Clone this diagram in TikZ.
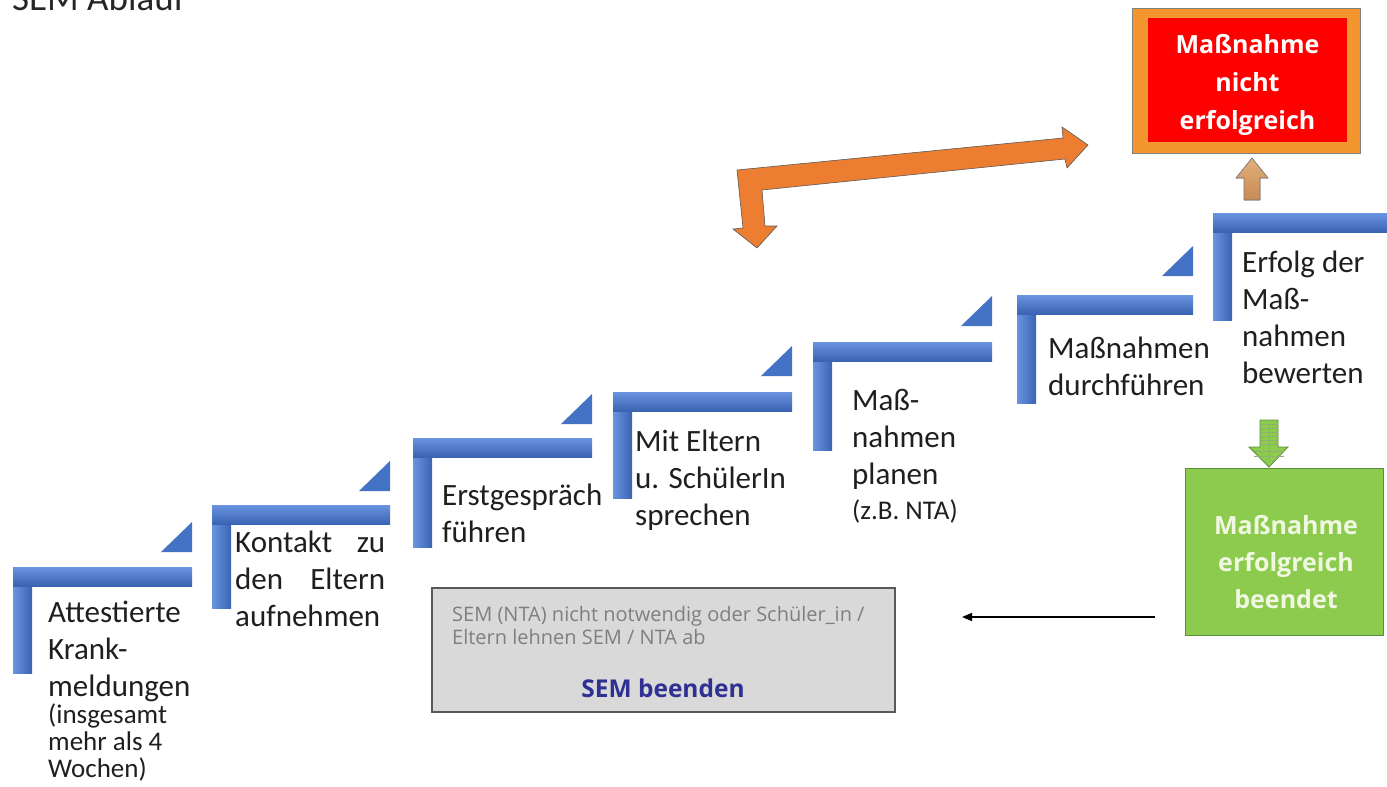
\documentclass[tikz,border=0pt]{standalone}
\usepackage{fontspec}
\setmainfont{Carlito}
\newfontfamily\boxfont{Open Sans}
\usetikzlibrary{arrows.meta}
\definecolor{stepblue}{HTML}{4472C4}
\definecolor{steplight}{HTML}{6A94DF}
\definecolor{stepdark}{HTML}{3A63B3}
\definecolor{arroworange}{HTML}{ED7D31}
\definecolor{frameorange}{HTML}{F4962E}
\definecolor{alarmred}{HTML}{FF0000}
\definecolor{tanlight}{HTML}{E2B07C}
\definecolor{tandark}{HTML}{C88A55}
\definecolor{okgreen}{HTML}{8DCB4F}
\definecolor{okgreendark}{HTML}{5E8E3D}
\definecolor{okwhite}{HTML}{F1F8E2}
\definecolor{stopgray}{HTML}{D9D9D9}
\definecolor{stopframe}{HTML}{595959}
\definecolor{stoptext}{HTML}{7F7F7F}
\definecolor{stopblue}{HTML}{2E3192}
\newcommand{\steplarge}{\fontsize{31}{37}\selectfont}
\newcommand{\stepsmall}{\fontsize{27}{27}\selectfont}
\tikzset{
  titletext/.style={anchor=base west, inner sep=0pt, font=\fontsize{37}{40}\selectfont, text=black!85},
  stepbar/.style={top color=steplight, bottom color=stepdark},
  steppost/.style={left color=steplight, right color=stepdark},
  steptip/.style={fill=stepblue},
  steptext/.style={anchor=base west, align=flush left, text width=200pt, inner sep=0pt, font=\steplarge, text=black!88},
  bentarrow/.style={fill=arroworange, draw=black!65, line width=0.6pt, line join=miter},
  uparrow/.style={top color=tanlight, bottom color=tandark, draw=black!55, line width=0.6pt},
  downarrow/.style={fill=okgreen, draw=okgreendark, line width=0.8pt},
  gridline/.style={draw=okgreendark!70, line width=0.4pt},
  failbox/.style={fill=alarmred, minimum width=199pt, minimum height=124pt},
  failtext/.style={align=center, text=white, font=\boxfont\bfseries\fontsize{25}{38}\selectfont},
  successbox/.style={fill=okgreen, draw=okgreendark, line width=0.8pt, minimum width=198pt, minimum height=167pt},
  successtext/.style={align=center, text=okwhite, font=\boxfont\bfseries\fontsize{25}{37}\selectfont},
  stopbox/.style={fill=stopgray, draw=stopframe, line width=1.4pt, minimum width=463pt, minimum height=124pt},
  stopnote/.style={anchor=base west, align=flush left, text width=440pt, inner sep=0pt, text=stoptext, font=\boxfont\fontsize{20}{23}\selectfont},
  stoplabel/.style={text=stopblue, font=\boxfont\bfseries\fontsize{24.5}{28}\selectfont},
  backarrow/.style={-{Triangle[length=10pt,width=8pt]}, line width=1.5pt, draw=black}
}

\begin{document}
\begin{tikzpicture}[x=1pt,y=-1pt]
  \useasboundingbox (0,0) rectangle (1387,787);
  \node[titletext] (title) at (12,10) {SEM Ablauf};

  % staircase
  \foreach \sx/\st/\sr/\sb in {13/567/192/673, 212/505/390/608, 413/438/592/547, 613/392/792/498, 813/342/992/450, 1017/295/1193/403, 1213/213/1400/320}{
    \fill[steppost] (\sx,\st) rectangle (\sx+19,\sb);
    \fill[stepbar] (\sx,\st) rectangle (\sr,\st+19);
  }
  \foreach \tr/\tb in {192/552, 390/491, 592/424, 792/376, 992/326, 1193/276}
    \fill[steptip] (\tr-31,\tb) -- (\tr,\tb) -- (\tr,\tb-30) -- cycle;

  \node[steptext] (s1) at (48,622) {Attestierte\\Krank-\\meldungen\\\stepsmall (insgesamt\\mehr als 4\\Wochen)\par};
  \node[steptext, text width=150pt] (s2) at (235,552) {Kontakt\hfill zu\\den\hfill Eltern\\aufnehmen};
  \node[steptext] (s3) at (442,505) {Erstgespräch\\führen};
  \node[steptext] (s4) at (635,451) {Mit Eltern\\u. SchülerIn\\sprechen};
  \node[steptext] (s5) at (852,410) {Maß-\\nahmen\\planen\\[8pt]\stepsmall (z.B. NTA)\par};
  \node[steptext] (s6) at (1048,358) {Maßnahmen\\durchführen};
  \node[steptext] (s7) at (1242,272) {Erfolg der\\Maß-\\nahmen\\bewerten};

  % loop back
  \filldraw[bentarrow] (737,170) -- (1063,138) -- (1062,127) -- (1088,145) -- (1067,168) -- (1065,159)
    -- (762,190) -- (765,226) -- (777,226) -- (757,248) -- (733,229) -- (743,228) -- cycle;

  % not successful
  \filldraw[fill=frameorange, draw=black!50, line width=0.8pt] (1132,8) rectangle (1360,153);
  \node[failbox] (fail) at (1247.5,80) {};
  \node[failtext] (faillbl) at (1247.5,85) {Maßnahme\\nicht\\erfolgreich};
  \filldraw[uparrow] (1244,200) -- (1244,178) -- (1236,178) -- (1252,158) -- (1268,178) -- (1260,178) -- (1260,200) -- cycle;

  % successful
  \filldraw[downarrow] (1260,420) -- (1278,420) -- (1278,447) -- (1288,447) -- (1269,467) -- (1249,447) -- (1260,447) -- cycle;
  \draw[gridline] (1269,420) -- (1269,462);
  \foreach \gy in {424,428,...,444} \draw[gridline] (1260,\gy) -- (1278,\gy);
  \foreach \gy in {451,456} \draw[gridline] (1254,\gy) -- (1284,\gy);
  \node[successbox] (success) at (1284,551.5) {};
  \node[successtext] (successlbl) at (1286,562) {Maßnahme\\erfolgreich\\beendet};

  % end of SEM
  \node[stopbox] (stop) at (663.5,650) {};
  \node[stopnote] (stopnt) at (452,621) {SEM (NTA) nicht notwendig oder Schüler\_in /\\Eltern lehnen SEM / NTA ab};
  \node[stoplabel] (stoplbl) at (663,688) {SEM beenden};
  \coordinate (backstart) at (1155,617);
  \coordinate (backend) at (962,617);
  \draw[backarrow] (backstart) -- (backend);
\end{tikzpicture}
\end{document}
